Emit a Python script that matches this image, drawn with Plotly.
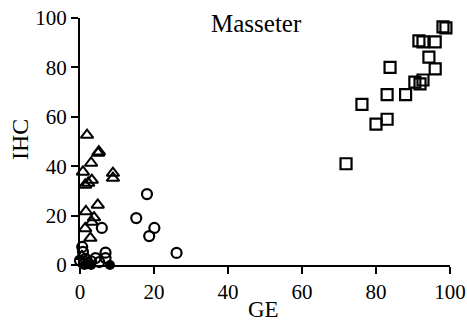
import plotly.graph_objects as go

sq_x = [71.9, 76.2, 80.0, 83.0, 83.8, 83.0, 88.0, 90.5, 91.9, 92.7, 91.6, 92.7, 96.0, 94.3, 96.0, 98.1, 98.9]
sq_y = [41.0, 65.0, 57.0, 59.0, 80.0, 69.0, 69.0, 74.0, 73.3, 74.9, 90.7, 90.3, 90.3, 84.2, 79.4, 96.4, 96.0]

tri_x = [1.9, 4.9, 5.1, 3.0, 0.8, 3.2, 1.4, 2.2, 8.9, 8.9, 4.8, 1.6, 3.8, 3.2, 1.4, 2.8, 0.5]
tri_y = [52.6, 45.3, 45.9, 41.3, 37.7, 34.4, 32.4, 33.2, 37.2, 35.2, 24.3, 21.7, 19.2, 17.4, 14.8, 10.9, 3.5]

circ_x = [18.1, 15.2, 20.1, 18.7, 26.1, 5.9, 0.6, 0.8, 0.0, 1.5, 3.0, 4.2, 5.2, 6.9, 6.9, 2.2]
circ_y = [28.7, 19.0, 15.0, 11.7, 4.9, 15.0, 7.3, 5.3, 1.8, 2.5, 1.5, 2.8, 1.2, 5.0, 2.8, 0.8]

fill_x = [1.2, 3.0, 8.1, 2.1]
fill_y = [0.0, 0.0, 0.0, 0.3]

title_text = "Masseter"
x_title = "GE"
y_title = "IHC"

fig = go.Figure()
common = dict(mode="markers", cliponaxis=False, showlegend=False, hoverinfo="skip")
fig.add_trace(go.Scatter(x=sq_x, y=sq_y, marker=dict(symbol="square-open", size=11, color="black", line=dict(width=2.2)), **common))
fig.add_trace(go.Scatter(x=tri_x, y=tri_y, marker=dict(symbol="triangle-up-open", size=11, color="black", line=dict(width=2)), **common))
fig.add_trace(go.Scatter(x=circ_x, y=circ_y, marker=dict(symbol="circle-open", size=10, color="black", line=dict(width=2.2)), **common))
fig.add_trace(go.Scatter(x=fill_x, y=fill_y, marker=dict(symbol="circle", size=10, color="black", line=dict(width=0)), **common))

axis_common = dict(range=[0, 100], dtick=20, showgrid=False, zeroline=False, automargin=False,
                   showline=True, linecolor="black", linewidth=2,
                   ticks="outside", ticklen=7, tickwidth=2, tickcolor="black",
                   tickfont=dict(family="Liberation Serif", size=21, color="black"))

font_t = dict(family="Liberation Serif", color="black")
fig.update_layout(
    width=467, height=323,
    margin=dict(l=80, r=17, t=18, b=58),
    paper_bgcolor="white", plot_bgcolor="white",
    xaxis=axis_common, yaxis=axis_common,
    annotations=[
        dict(text=title_text, x=0.478, y=0.976, xref="paper", yref="paper", xanchor="center", yanchor="middle",
             showarrow=False, font=dict(size=25, **font_t)),
        dict(text=x_title, x=0.495, y=-0.180, xref="paper", yref="paper", xanchor="center", yanchor="middle",
             showarrow=False, font=dict(size=23, **font_t)),
        dict(text=y_title, x=-0.162, y=0.506, xref="paper", yref="paper", xanchor="center", yanchor="middle",
             textangle=-90, showarrow=False, font=dict(size=24, **font_t)),
    ],
)

fig.write_html("out.html", config={"displayModeBar": False},
               post_script="document.body.style.margin='0';document.body.style.overflow='hidden';")
